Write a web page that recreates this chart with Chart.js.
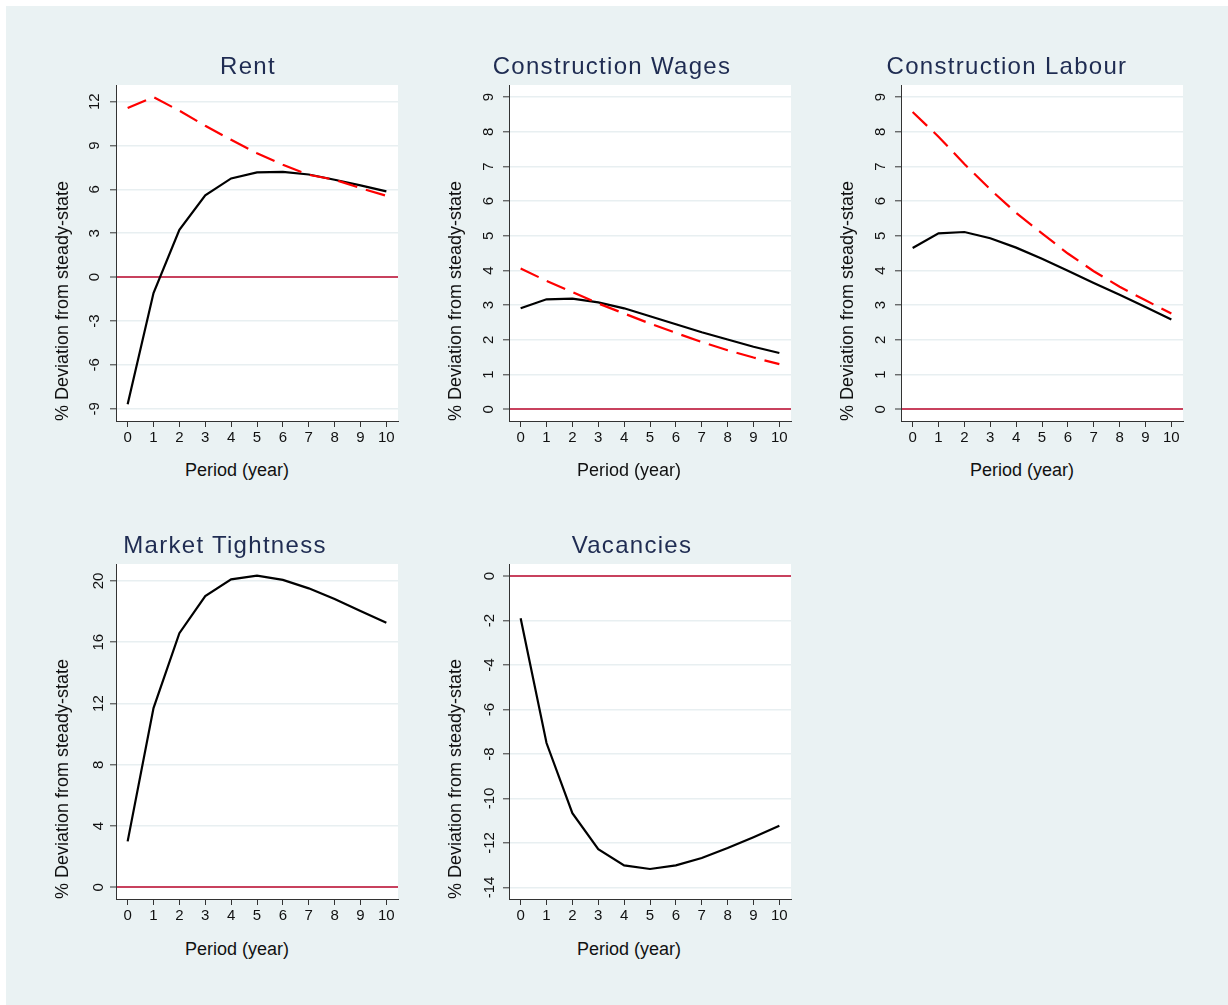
<!DOCTYPE html>
<html>
<head>
<meta charset="utf-8">
<script src="https://cdn.jsdelivr.net/npm/chart.js@4.4.0/dist/chart.umd.min.js"></script>
<style>
  html, body { margin: 0; padding: 0; background: #ffffff; width: 1228px; height: 1005px; overflow: hidden; }
  #bg { position: absolute; left: 6px; top: 6px; width: 1222px; height: 999px; background: #eaf2f3; }
  canvas { position: absolute; }
  .ptitle { position: absolute; width: 400px; text-align: center; font-family: "Liberation Sans", Arial, sans-serif;
            font-size: 24px; line-height: 24px; letter-spacing: 1.3px; color: #1f2c52; white-space: nowrap; }
  .xtitle { position: absolute; width: 300px; text-align: center; font-family: "Liberation Sans", Arial, sans-serif;
            font-size: 18px; line-height: 18px; color: #111; white-space: nowrap; }
</style>
</head>
<body>
<div id="bg"></div>
<script>
// ---------------- DATA ----------------
const periods = [0, 1, 2, 3, 4, 5, 6, 7, 8, 9, 10];

const rentBlack = [-8.69, -1.09, 3.24, 5.59, 6.75, 7.16, 7.20, 7.02, 6.66, 6.27, 5.86];
const rentRed   = [11.56, 12.31, 11.38, 10.35, 9.39, 8.48, 7.68, 7.00, 6.66, 6.09, 5.56];

const wagesBlack = [2.91, 3.17, 3.19, 3.08, 2.91, 2.68, 2.45, 2.22, 2.01, 1.80, 1.62];
const wagesRed   = [4.06, 3.70, 3.38, 3.05, 2.76, 2.47, 2.20, 1.94, 1.70, 1.49, 1.30];

const labourBlack = [4.65, 5.07, 5.11, 4.93, 4.66, 4.34, 3.99, 3.64, 3.30, 2.95, 2.59];
const labourRed   = [8.57, 7.86, 7.07, 6.34, 5.66, 5.07, 4.49, 3.98, 3.53, 3.14, 2.76];

const tightnessBlack = [3.0, 11.7, 16.59, 19.02, 20.11, 20.35, 20.07, 19.52, 18.83, 18.04, 17.28];

const vacanciesBlack = [-1.90, -7.51, -10.66, -12.28, -13.01, -13.17, -13.01, -12.68, -12.23, -11.74, -11.23];

const xTicks = [0, 1, 2, 3, 4, 5, 6, 7, 8, 9, 10];
const rentTicks = [-9, -6, -3, 0, 3, 6, 9, 12];
const wagesTicks = [0, 1, 2, 3, 4, 5, 6, 7, 8, 9];
const labourTicks = [0, 1, 2, 3, 4, 5, 6, 7, 8, 9];
const tightnessTicks = [0, 4, 8, 12, 16, 20];
const vacanciesTicks = [-14, -12, -10, -8, -6, -4, -2, 0];

const panelTitles = ["Rent", "Construction Wages", "Construction Labour", "Market Tightness", "Vacancies"];
const xAxisTitle = "Period (year)";
const yAxisTitle = "% Deviation from steady-state";

// ---------------- STYLE / LAYOUT ----------------
Chart.defaults.font.family = '"Liberation Sans", Arial, sans-serif';
Chart.defaults.color = '#111';

const FONT_STACK = '"Liberation Sans", Arial, sans-serif';
const AXIS_COLOR = '#333333';
const GRID_COLOR = '#e8eff1';
const ZERO_COLOR = '#c8415e';
const TICK_FONT = 15;

const panels = [
  { title: panelTitles[0], black: rentBlack, red: rentRed, ticks: rentTicks, ymin: -9.84, ymax: 13.14,
    left: 48, top: 73, plotH: 336, tickPad: 6.6, titleX: 248, titleTop: 54, xTitleX: 237, xTitleTop: 461 },
  { title: panelTitles[1], black: wagesBlack, red: wagesRed, ticks: wagesTicks, ymin: -0.34, ymax: 9.35,
    left: 441, top: 73, plotH: 336, tickPad: 9.5, titleX: 612, titleTop: 54, xTitleX: 629, xTitleTop: 461 },
  { title: panelTitles[2], black: labourBlack, red: labourRed, ticks: labourTicks, ymin: -0.34, ymax: 9.35,
    left: 833, top: 73, plotH: 336, tickPad: 10.2, titleX: 1007, titleTop: 54, xTitleX: 1022, xTitleTop: 461 },
  { title: panelTitles[3], black: tightnessBlack, red: null, ticks: tightnessTicks, ymin: -0.76, ymax: 21.11,
    left: 48, top: 552, plotH: 335, tickPad: 2.8, titleX: 225, titleTop: 533, xTitleX: 237, xTitleTop: 940 },
  { title: panelTitles[4], black: vacanciesBlack, red: null, ticks: vacanciesTicks, ymin: -14.52, ymax: 0.54,
    left: 441, top: 552, plotH: 335, tickPad: 2.6, titleX: 632, titleTop: 533, xTitleX: 629, xTitleTop: 940 }
];

const PAD_TOP = 12, PAD_RIGHT = 8, YAXIS_W = 68, XAXIS_H = 30, PLOT_W = 282;

const plotBg = {
  id: 'plotBg',
  beforeDraw(chart) {
    const { ctx, chartArea: a } = chart;
    ctx.save();
    ctx.fillStyle = '#ffffff';
    ctx.fillRect(a.left, a.top, a.width, a.height);
    ctx.restore();
  }
};

function toPoints(vals) {
  return vals.map((v, i) => ({ x: periods[i], y: v }));
}

function zeroPads(s) {
  s.paddingTop = 0; s.paddingBottom = 0; s.paddingLeft = 0; s.paddingRight = 0;
}

panels.forEach((p) => {
  const cv = document.createElement('canvas');
  const w = YAXIS_W + PLOT_W + PAD_RIGHT;
  const h = PAD_TOP + p.plotH + XAXIS_H;
  cv.width = w; cv.height = h;
  cv.style.left = p.left + 'px';
  cv.style.top = p.top + 'px';
  cv.style.width = w + 'px';
  cv.style.height = h + 'px';
  document.body.appendChild(cv);

  const datasets = [];
  if (p.red) {
    datasets.push({
      data: toPoints(p.red), borderColor: '#ff0000', borderWidth: 2.2, borderDash: [20, 9],
      pointRadius: 0, tension: 0, fill: false
    });
  }
  datasets.push({
    data: toPoints(p.black), borderColor: '#000000', borderWidth: 2.2,
    pointRadius: 0, tension: 0, fill: false
  });

  new Chart(cv, {
    type: 'line',
    data: { datasets },
    plugins: [plotBg],
    options: {
      responsive: false,
      animation: false,
      devicePixelRatio: 1,
      layout: { padding: { top: PAD_TOP, right: PAD_RIGHT, left: 0, bottom: 0 } },
      plugins: { legend: { display: false }, tooltip: { enabled: false }, title: { display: false } },
      scales: {
        x: {
          type: 'linear', min: -0.45, max: 10.45,
          afterBuildTicks: s => { s.ticks = xTicks.map(v => ({ value: v })); },
          afterFit: s => { s.height = XAXIS_H; zeroPads(s); },
          grid: { drawOnChartArea: false, drawTicks: true, tickLength: 6, tickColor: AXIS_COLOR, tickWidth: 1 },
          border: { display: true, color: AXIS_COLOR, width: 1 },
          ticks: { autoSkip: false, maxRotation: 0, minRotation: 0, padding: 2,
                   font: { size: TICK_FONT, family: FONT_STACK }, color: '#111' },
          title: { display: false }
        },
        y: {
          type: 'linear', min: p.ymin, max: p.ymax,
          afterBuildTicks: s => { s.ticks = p.ticks.map(v => ({ value: v })); },
          afterFit: s => { s.width = YAXIS_W; zeroPads(s); },
          grid: {
            drawOnChartArea: true, drawTicks: true, tickLength: 6, tickColor: AXIS_COLOR, tickWidth: 1,
            color: c => (c.tick && c.tick.value === 0) ? ZERO_COLOR : GRID_COLOR,
            lineWidth: c => (c.tick && c.tick.value === 0) ? 2 : 1.6
          },
          border: { display: true, color: AXIS_COLOR, width: 1 },
          ticks: { autoSkip: false, minRotation: 90, maxRotation: 90, crossAlign: 'center', padding: p.tickPad,
                   font: { size: TICK_FONT, family: FONT_STACK }, color: '#111' },
          title: { display: true, text: yAxisTitle, align: 'start', color: '#111',
                   font: { size: 18, family: FONT_STACK }, padding: { top: 4, bottom: 4 } }
        }
      }
    }
  });

  const t = document.createElement('div');
  t.className = 'ptitle';
  t.textContent = p.title;
  t.style.left = (p.titleX - 200) + 'px';
  t.style.top = p.titleTop + 'px';
  document.body.appendChild(t);

  const xt = document.createElement('div');
  xt.className = 'xtitle';
  xt.textContent = xAxisTitle;
  xt.style.left = (p.xTitleX - 150) + 'px';
  xt.style.top = p.xTitleTop + 'px';
  document.body.appendChild(xt);
});
</script>
</body>
</html>
